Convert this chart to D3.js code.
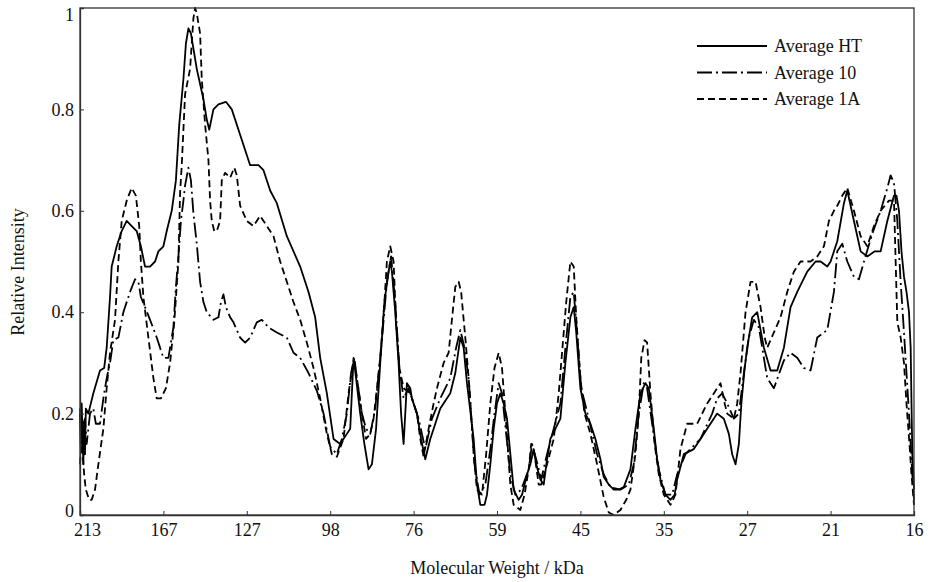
<!DOCTYPE html>
<html>
<head>
<meta charset="utf-8">
<script src="https://cdn.jsdelivr.net/npm/d3@7"></script>
<style>
  body { margin: 0; background: #fff; }
  svg { display: block; font-family: "Liberation Serif", "Times New Roman", serif; }
</style>
</head>
<body>
<div id="chart"></div>
<script>
// tick labels (molecular weight markers, evenly spaced along the lane)
var mwLabels = ["213", "167", "127", "98", "76", "59", "45", "35", "27", "21", "16"];
var yTicks = [0, 0.2, 0.4, 0.6, 0.8, 1];
var seriesNames = ["Average HT", "Average 10", "Average 1A"];

// [lane position 0-100, relative intensity]
var avgHT = [[0,0.2],[0.1,0.13],[0.2,0.22],[0.4,0.1],[0.5,0.18],[0.6,0.12],[0.7,0.21],[1.0,0.2],[1.6,0.24],[2.4,0.285],[2.9,0.29],[3.2,0.33],[3.6,0.43],[3.8,0.49],[4.4,0.53],[5.0,0.56],[5.6,0.58],[6.2,0.57],[6.8,0.56],[7.3,0.53],[7.8,0.49],[8.4,0.49],[9.0,0.5],[9.4,0.52],[10.0,0.53],[10.4,0.56],[11.0,0.6],[11.5,0.66],[11.9,0.77],[12.4,0.86],[12.7,0.93],[13.0,0.96],[13.3,0.95],[13.7,0.91],[14.0,0.88],[14.4,0.85],[14.8,0.82],[15.2,0.78],[15.5,0.76],[16.0,0.8],[16.6,0.81],[17.5,0.815],[18.2,0.8],[19.2,0.75],[20.4,0.69],[21.4,0.69],[22.0,0.68],[22.8,0.64],[23.6,0.615],[24.8,0.55],[26.4,0.49],[27.4,0.44],[28.2,0.39],[28.8,0.31],[29.6,0.24],[30.4,0.15],[31.2,0.14],[32.0,0.16],[32.4,0.17],[32.8,0.31],[33.1,0.27],[33.6,0.2],[34.1,0.14],[34.6,0.09],[35.0,0.1],[35.5,0.17],[36.0,0.3],[36.5,0.42],[37.0,0.48],[37.2,0.5],[37.4,0.48],[37.8,0.4],[38.2,0.3],[38.5,0.2],[38.8,0.14],[39.0,0.2],[39.2,0.26],[39.6,0.25],[39.8,0.23],[40.4,0.2],[40.9,0.15],[41.4,0.11],[42.0,0.15],[42.6,0.18],[43.2,0.21],[44.4,0.24],[45.0,0.28],[45.6,0.35],[46.0,0.33],[46.4,0.26],[47.2,0.15],[47.6,0.06],[48.0,0.02],[48.5,0.02],[48.8,0.04],[49.2,0.1],[49.6,0.17],[50.0,0.22],[50.4,0.24],[50.8,0.22],[51.2,0.19],[51.6,0.12],[52.0,0.05],[52.6,0.03],[53.0,0.04],[53.6,0.08],[54.0,0.1],[54.4,0.13],[54.7,0.1],[55.2,0.07],[55.6,0.06],[56.0,0.11],[56.4,0.15],[57.0,0.17],[57.6,0.19],[58.2,0.3],[58.8,0.39],[59.2,0.41],[59.5,0.36],[60.0,0.25],[60.6,0.2],[61.2,0.18],[61.8,0.15],[62.4,0.11],[62.8,0.075],[63.4,0.06],[64.0,0.05],[64.6,0.05],[65.2,0.055],[66.0,0.09],[66.6,0.17],[67.2,0.24],[67.8,0.26],[68.2,0.25],[68.8,0.17],[69.2,0.11],[69.6,0.07],[70.2,0.04],[70.8,0.03],[71.3,0.04],[71.6,0.07],[72.4,0.12],[73.6,0.13],[74.4,0.15],[75.2,0.17],[76.4,0.2],[77.2,0.19],[77.8,0.16],[78.2,0.12],[78.6,0.1],[79.0,0.14],[79.3,0.22],[79.7,0.29],[80.0,0.33],[80.6,0.39],[81.2,0.4],[82.0,0.33],[82.8,0.285],[83.6,0.285],[84.4,0.33],[85.2,0.41],[86.0,0.44],[87.2,0.48],[88.2,0.5],[88.8,0.5],[89.6,0.49],[90.0,0.5],[90.8,0.54],[91.6,0.615],[92.0,0.64],[92.4,0.61],[92.8,0.58],[93.6,0.52],[94.4,0.51],[95.3,0.52],[96.0,0.52],[96.8,0.58],[97.6,0.63],[97.9,0.63],[98.2,0.6],[98.5,0.52],[98.8,0.47],[99.1,0.44],[99.4,0.4],[99.6,0.33],[99.7,0.22],[99.8,0.12],[100,0.05]];

var avg10 = [[0,0.21],[0.2,0.17],[0.6,0.19],[0.8,0.14],[1.2,0.2],[1.6,0.21],[1.9,0.18],[2.4,0.18],[2.8,0.23],[3.2,0.27],[3.6,0.3],[4.0,0.345],[4.6,0.35],[5.2,0.4],[6.0,0.44],[6.6,0.465],[7.0,0.46],[7.3,0.43],[7.8,0.41],[8.4,0.385],[9.2,0.35],[10.0,0.31],[10.6,0.31],[10.9,0.34],[11.2,0.37],[11.5,0.45],[11.8,0.51],[12.1,0.58],[12.4,0.62],[12.6,0.65],[13.0,0.685],[13.3,0.66],[13.6,0.595],[14.0,0.535],[14.4,0.46],[14.8,0.42],[15.2,0.4],[16.0,0.385],[16.6,0.39],[16.9,0.42],[17.2,0.435],[17.5,0.41],[18.0,0.39],[18.4,0.38],[19.2,0.35],[19.8,0.34],[20.4,0.35],[21.2,0.38],[21.8,0.385],[22.6,0.37],[23.6,0.36],[24.8,0.35],[25.6,0.32],[26.4,0.31],[27.4,0.28],[28.4,0.245],[29.2,0.2],[30.0,0.135],[30.8,0.12],[31.4,0.15],[32.0,0.2],[32.5,0.28],[32.9,0.31],[33.2,0.27],[33.8,0.2],[34.3,0.17],[34.8,0.16],[35.4,0.21],[36.2,0.345],[36.8,0.46],[37.3,0.51],[37.8,0.42],[38.3,0.29],[38.8,0.23],[39.4,0.25],[40.0,0.22],[40.6,0.19],[41.4,0.13],[42.2,0.19],[43.2,0.23],[44.4,0.27],[45.1,0.33],[45.6,0.365],[46.1,0.33],[46.6,0.27],[47.3,0.1],[47.9,0.04],[48.6,0.06],[49.2,0.13],[49.7,0.2],[50.2,0.26],[50.6,0.24],[51.1,0.16],[51.6,0.08],[52.2,0.04],[52.9,0.05],[53.8,0.09],[54.2,0.14],[54.7,0.11],[55.3,0.07],[56.0,0.12],[56.8,0.17],[57.6,0.22],[58.2,0.33],[58.8,0.43],[59.2,0.44],[59.5,0.38],[60.1,0.25],[61.0,0.19],[62.0,0.12],[62.8,0.08],[63.6,0.055],[64.8,0.05],[65.8,0.06],[66.4,0.1],[67.0,0.2],[67.6,0.26],[68.0,0.25],[68.6,0.18],[69.4,0.09],[70.2,0.04],[71.0,0.04],[71.6,0.08],[72.6,0.12],[74.4,0.15],[75.8,0.2],[76.4,0.23],[77.0,0.24],[77.6,0.22],[78.4,0.19],[79.0,0.2],[79.6,0.28],[80.2,0.35],[80.8,0.385],[81.4,0.37],[82.0,0.31],[82.4,0.27],[83.2,0.25],[84.4,0.305],[85.2,0.32],[86.0,0.31],[86.8,0.29],[87.6,0.285],[88.4,0.35],[89.6,0.365],[90.4,0.44],[90.8,0.52],[91.4,0.535],[92.0,0.5],[92.8,0.47],[93.4,0.465],[94.0,0.5],[95.0,0.555],[96.0,0.6],[96.8,0.645],[97.2,0.67],[97.6,0.655],[98.0,0.58],[98.4,0.46],[98.8,0.36],[99.1,0.28],[99.4,0.2],[99.6,0.14],[99.8,0.08],[100,0.03]];

var avg1A = [[0,0.1],[0.2,0.15],[0.5,0.08],[0.7,0.05],[1.1,0.03],[1.4,0.03],[1.8,0.05],[2.2,0.1],[2.8,0.17],[3.2,0.25],[3.6,0.32],[4.2,0.385],[4.6,0.5],[5.0,0.58],[5.6,0.62],[6.2,0.645],[6.7,0.63],[7.1,0.57],[7.3,0.5],[7.6,0.43],[8.2,0.35],[8.8,0.27],[9.2,0.23],[9.7,0.23],[10.3,0.25],[10.8,0.3],[11.3,0.38],[11.8,0.5],[12.0,0.635],[12.2,0.69],[12.6,0.83],[13.2,0.88],[13.6,0.98],[13.8,1.0],[14.0,0.99],[14.4,0.95],[14.6,0.86],[15.0,0.77],[15.4,0.7],[15.6,0.62],[15.8,0.58],[16.1,0.56],[16.4,0.56],[16.8,0.58],[17.0,0.66],[17.4,0.675],[18.0,0.665],[18.5,0.685],[18.8,0.67],[19.2,0.61],[20.0,0.58],[20.8,0.57],[21.6,0.59],[22.4,0.57],[23.2,0.55],[24.0,0.5],[24.8,0.46],[25.6,0.42],[26.4,0.385],[27.2,0.34],[28.0,0.29],[28.8,0.23],[29.6,0.16],[30.2,0.12],[30.8,0.115],[31.6,0.15],[32.2,0.24],[32.8,0.305],[33.2,0.27],[33.8,0.2],[34.3,0.15],[34.8,0.16],[35.2,0.19],[35.6,0.25],[36.0,0.31],[36.5,0.42],[36.8,0.5],[37.2,0.53],[37.6,0.5],[37.9,0.38],[38.3,0.29],[38.8,0.25],[39.6,0.24],[40.4,0.2],[40.8,0.15],[41.2,0.115],[41.8,0.17],[42.4,0.22],[42.8,0.25],[43.6,0.3],[44.2,0.32],[44.5,0.37],[45.0,0.45],[45.4,0.46],[45.7,0.44],[46.2,0.35],[46.7,0.25],[47.2,0.12],[47.6,0.05],[48.2,0.04],[48.7,0.12],[49.2,0.22],[49.7,0.29],[50.2,0.32],[50.6,0.29],[51.1,0.18],[51.6,0.06],[52.0,0.02],[52.8,0.01],[53.3,0.04],[53.8,0.09],[54.1,0.14],[54.5,0.12],[55.0,0.06],[55.3,0.06],[56.0,0.1],[56.8,0.15],[57.4,0.24],[57.8,0.32],[58.3,0.42],[58.8,0.5],[59.2,0.49],[59.5,0.39],[60.0,0.27],[60.5,0.2],[61.2,0.16],[62.0,0.1],[62.8,0.035],[63.4,0.005],[64.0,0],[64.8,0.01],[65.5,0.03],[66.0,0.05],[66.6,0.12],[67.0,0.2],[67.3,0.31],[67.7,0.345],[68.0,0.34],[68.4,0.24],[68.9,0.14],[69.4,0.08],[70.0,0.04],[70.8,0.02],[71.4,0.04],[72.0,0.13],[72.8,0.18],[74.0,0.18],[75.2,0.22],[76.4,0.25],[76.8,0.26],[77.3,0.22],[77.6,0.2],[78.4,0.19],[78.8,0.22],[79.2,0.28],[79.8,0.4],[80.4,0.46],[81.0,0.46],[81.6,0.41],[82.1,0.35],[82.4,0.33],[83.2,0.36],[84.0,0.39],[84.8,0.44],[85.6,0.48],[86.4,0.5],[87.6,0.5],[88.4,0.51],[89.2,0.53],[89.8,0.58],[90.4,0.6],[90.8,0.61],[91.4,0.63],[92.0,0.645],[92.8,0.6],[93.6,0.55],[94.4,0.53],[95.2,0.57],[96.0,0.6],[96.5,0.61],[97.0,0.62],[97.6,0.62],[97.8,0.5],[98.0,0.38],[98.4,0.35],[98.8,0.3],[99.1,0.22],[99.5,0.13],[99.7,0.08],[100,0.02]];

// chart size
var W = 931, H = 582;
var margin = {top: 8, right: 17, bottom: 67, left: 80},
    width = W - margin.left - margin.right,
    height = H - margin.top - margin.bottom;

var svg = d3.select("#chart")
  .append("svg")
    .attr("width", W)
    .attr("height", H);

var g = svg.append("g")
  .attr("transform", "translate(" + margin.left + "," + margin.top + ")");

var x = d3.scaleLinear().domain([0, 100]).range([0, width]);
var y = d3.scaleLinear().domain([0, 1]).range([height, 0]);

// line styles per series
var styles = [
  {data: avgHT, dash: null},
  {data: avg10, dash: "15,4,2,4"},
  {data: avg1A, dash: "7,4"}
];

var line = d3.line()
  .x(function(d) { return x(d[0]); })
  .y(function(d) { return y(d[1]); });

g.selectAll(".series")
  .data(styles)
  .enter()
  .append("path")
    .attr("class", "series")
    .attr("d", function(d) { return line(d.data); })
    .attr("fill", "none")
    .attr("stroke", "#000")
    .attr("stroke-width", 1.8)
    .attr("stroke-linejoin", "round")
    .attr("stroke-dasharray", function(d) { return d.dash; });

// frame
g.append("rect")
  .attr("width", width)
  .attr("height", height)
  .attr("fill", "none")
  .attr("stroke", "#333")
  .attr("stroke-width", 1.3);

// x axis
var xAxis = g.append("g")
  .attr("transform", "translate(0," + height + ")")
  .call(d3.axisBottom(x)
    .tickValues(d3.range(0, 101, 10))
    .tickSize(-4)
    .tickPadding(8)
    .tickFormat(function(d, i) { return mwLabels[i]; }));

// y axis
var yAxis = g.append("g")
  .call(d3.axisLeft(y)
    .tickValues(yTicks)
    .tickSize(-4)
    .tickPadding(6)
    .tickFormat(function(d) { return d === 0 ? "0" : d === 1 ? "1" : d3.format(".1f")(d); }));

[xAxis, yAxis].forEach(function(a) {
  a.select(".domain").attr("stroke", "#333").attr("stroke-width", 1.3);
  a.selectAll(".tick line").attr("stroke", "#333");
  a.selectAll(".tick text")
    .attr("font-family", "'Liberation Serif', 'Times New Roman', serif")
    .attr("font-size", "18px")
    .attr("fill", "#111");
});

// first labels nudged inside like the original
xAxis.selectAll(".tick text").filter(function(d) { return d === 0; }).attr("dx", 7);
yAxis.selectAll(".tick text").filter(function(d) { return d === 1; }).attr("dy", "0.7em");
yAxis.selectAll(".tick text").filter(function(d) { return d === 0; }).attr("dy", "0.1em");

// axis titles
svg.append("text")
  .attr("x", margin.left + width / 2)
  .attr("y", 574)
  .attr("text-anchor", "middle")
  .attr("font-size", "18px")
  .attr("fill", "#111")
  .text("Molecular Weight / kDa");

svg.append("text")
  .attr("transform", "translate(24," + 272 + ") rotate(-90)")
  .attr("text-anchor", "middle")
  .attr("font-size", "18px")
  .attr("fill", "#111")
  .text("Relative Intensity");

// legend
var legend = svg.append("g")
  .attr("transform", "translate(697,46)");

var row = legend.selectAll(".row")
  .data(styles)
  .enter()
  .append("g")
    .attr("transform", function(d, i) { return "translate(0," + (i * 26.5) + ")"; });

row.append("line")
  .attr("x1", 0).attr("x2", 70)
  .attr("stroke", "#000")
  .attr("stroke-width", 1.8)
  .attr("stroke-dasharray", function(d) { return d.dash; });

row.append("text")
  .attr("x", 77)
  .attr("y", 6)
  .attr("font-size", "18px")
  .attr("fill", "#111")
  .text(function(d, i) { return seriesNames[i]; });
</script>
</body>
</html>
